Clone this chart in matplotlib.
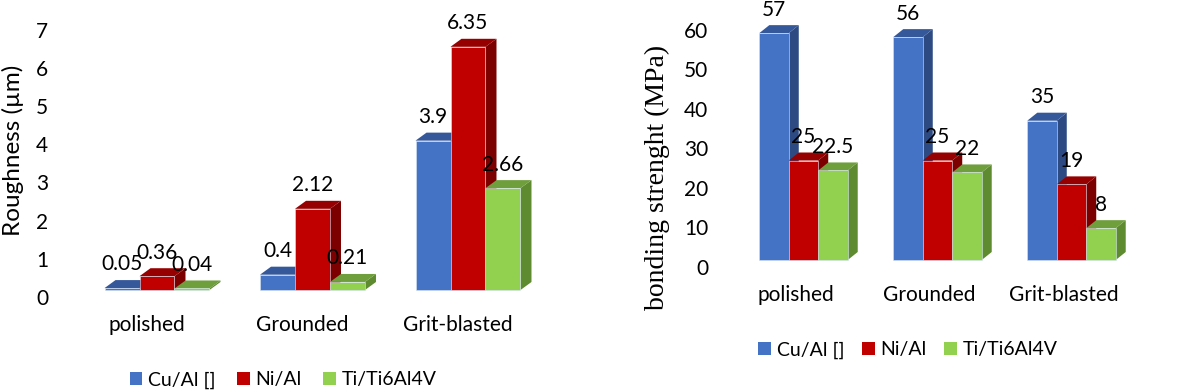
import numpy as np
import matplotlib
matplotlib.use("Agg")
import matplotlib.pyplot as plt
from matplotlib.patches import Polygon, Patch

categories = ["polished", "Grounded", "Grit-blasted"]
series = ["Cu/Al []", "Ni/Al", "Ti/Ti6Al4V"]
roughness = {
    "Cu/Al []": [0.05, 0.4, 3.9],
    "Ni/Al": [0.36, 2.12, 6.35],
    "Ti/Ti6Al4V": [0.04, 0.21, 2.66],
}
strength = {
    "Cu/Al []": [57, 56, 35],
    "Ni/Al": [25, 25, 19],
    "Ti/Ti6Al4V": [22.5, 22, 8],
}
rough_ticks = np.arange(0, 8)
strength_ticks = np.arange(0, 70, 10)

# front, top, side colours
COLS = {
    "Cu/Al []": ("#4472C4", "#34589A", "#2D4A82"),
    "Ni/Al": ("#C00000", "#960000", "#7C0000"),
    "Ti/Ti6Al4V": ("#92D050", "#6F9E3C", "#5E8A30"),
}
SANS = "Lato"
FS = 15
W, H = 1200, 391

fig = plt.figure(figsize=(12, 3.91), dpi=100)


def px_axes(left, right, top, bottom):
    return fig.add_axes([left / W, 1 - bottom / H, (right - left) / W, (bottom - top) / H])


def draw_chart(ax, data, ticks, spacing_px, yscale_px, bar_w,
               depth_px, tick_shift, tick_gain, lab_shift_px, lab_drop_px):
    # pixel -> data conversions
    dx = depth_px[0] / spacing_px
    dy = depth_px[1] / yscale_px
    z = 2
    for i in range(len(categories)):
        for j, s in enumerate(series):
            h = data[s][i]
            x0 = i + (j - 1.5) * bar_w
            x1 = x0 + bar_w
            front, top, side = COLS[s]
            ax.add_patch(Polygon([(x1, 0), (x1 + dx, dy), (x1 + dx, h + dy), (x1, h)],
                                 closed=True, facecolor=side, edgecolor="none", zorder=z))
            ax.add_patch(Polygon([(x0, h), (x1, h), (x1 + dx, h + dy), (x0 + dx, h + dy)],
                                 closed=True, facecolor=top, edgecolor="none", zorder=z + 0.1))
            ax.bar(x0, h, width=bar_w, align="edge", color=front,
                   edgecolor="#d8e4f4", linewidth=0.4, zorder=z + 0.2)
            ax.annotate(f"{h:g}", (x0 + bar_w / 2, h), xytext=(0, 17),
                        textcoords="offset points", ha="center", va="center",
                        fontsize=FS, family=SANS, zorder=20)
            z += 1
        ax.text(i - lab_shift_px / spacing_px, -lab_drop_px / yscale_px, categories[i],
                ha="center", va="center", fontsize=FS, family=SANS)
    ax.set_yticks(tick_shift + ticks * tick_gain)
    ax.set_yticklabels([f"{t:d}" for t in ticks], fontsize=FS, family=SANS)
    ax.tick_params(axis="y", length=0, pad=5)
    ax.set_xticks([])
    for sp in ax.spines.values():
        sp.set_visible(False)
    ax.patch.set_alpha(0)


# left chart: roughness
axL = px_axes(55, 600, 10, 300)
sp_L, ys_L = 155.5, 38.3
axL.set_xlim((55 - 157) / sp_L, (600 - 157) / sp_L)
axL.set_ylim(-10 / ys_L, 280 / ys_L)
draw_chart(axL, roughness, rough_ticks, sp_L, ys_L, 0.225,
           (11, 8), -0.18, 0.996, 10, 35)
fig.text(13 / W, 1 - 150 / H, "Roughness (µm)", rotation=90, ha="center", va="center",
         fontsize=17.5, family=SANS)

# right chart: bonding strength
axR = px_axes(715, 1195, 0, 280)
sp_R, ys_R = 134.0, 3.98
axR.set_xlim((715 - 803.5) / sp_R, (1195 - 803.5) / sp_R)
axR.set_ylim(-20 / ys_R, 260 / ys_R)
draw_chart(axR, strength, strength_ticks, sp_R, ys_R, 0.22,
           (10, 8), -1.76, 0.9927, 8, 35)
fig.text(657 / W, 1 - 177 / H, "bonding strenght (MPa)", rotation=90, ha="center",
         va="center", fontsize=20, family="Liberation Serif")

handles = [Patch(facecolor=COLS[s][0], edgecolor="none", label=s) for s in series]
for cx, cy, cs in [(283, 380, 1.1), (908, 350, 0.9)]:
    fig.legend(handles=handles, loc="center", bbox_to_anchor=(cx / W, 1 - cy / H),
               ncol=3, frameon=False, prop={"family": SANS, "size": 14},
               handlelength=0.65, handleheight=0.65, handletextpad=0.3,
               columnspacing=cs, borderaxespad=0)

fig.savefig("out.png", dpi=100)
